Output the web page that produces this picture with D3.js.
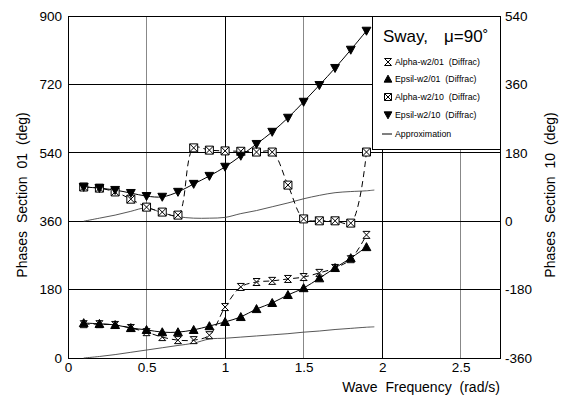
<!DOCTYPE html>
<html><head><meta charset="utf-8">
<script src="https://cdn.jsdelivr.net/npm/d3@7"></script>
<style>body{margin:0;background:#fff}svg{display:block}text{font-family:"Liberation Sans",Arial,Helvetica,sans-serif}</style>
</head><body><svg id="c" width="569" height="419"></svg>
<script>
const freq = [0.1,0.2,0.3,0.4,0.5,0.6,0.7,0.8,0.9,1.0,1.1,1.2,1.3,1.4,1.5,1.6,1.7,1.8,1.9];
const alpha01 = [89,89,87,79,68,55,47,47,60,134,187,200,203,208,213,224,237,260,324];
const epsil01 = [92,90,87,79,74,68,68,74,84,95,108,129,145,166,184,210,237,263,292];
const alpha10 = [90,87,77,58,37,24,16,193,187,185,184,182,182,95,6,1,1,-5,182];
const epsil10 = [90,87,82,74,66,64,77,98,119,143,172,203,235,272,314,358,403,451,501];
const approxFreq = [0.1,0.2,0.3,0.4,0.5,0.6,0.7,0.8,0.9,1.0,1.1,1.2,1.3,1.4,1.5,1.6,1.7,1.8,1.9,1.95];
const approx01 = [0,4,9,15,21,27,33,39,50,52,55,58,61,64,68,71,75,78,81,82];
const approx10 = [0,8,16,26,35,22,12,8,8,10,20,28,38,48,59,68,75,78,80,82];
const xTicks = [0,0.5,1,1.5,2,2.5];
const xTickLabels = ["0","0.5","1","1.5","2","2.5"];
const yLeftTicks = [0,180,360,540,720,900];
const yRightTicks = [-360,-180,0,180,360,540];
const yRightLabels = ["-360","-180","0","180","360","540"];
const legendLabels = ["Alpha-w2/01  (Diffrac)","Epsil-w2/01  (Diffrac)","Alpha-w2/10  (Diffrac)","Epsil-w2/10  (Diffrac)","Approximation"];

const svg = d3.select("#c");
const L=68,R=500,T=16,B=358;
const x = d3.scaleLinear().domain([0,2.75]).range([L,R]);
const yL = d3.scaleLinear().domain([0,900]).range([B,T]);
const yR = d3.scaleLinear().domain([-360,540]).range([B,T]);

// grid
xTicks.filter(v=>v>0).forEach(v=>{
  svg.append("line").attr("x1",x(v)).attr("x2",x(v)).attr("y1",T).attr("y2",B)
    .attr("stroke",(v%1===0)?"#000":"#888").attr("stroke-width",1).attr("shape-rendering","crispEdges");
});
yLeftTicks.filter(v=>v>0&&v<900).forEach(v=>{
  svg.append("line").attr("x1",L).attr("x2",R).attr("y1",yL(v)).attr("y2",yL(v))
    .attr("stroke","#000").attr("stroke-width",1).attr("shape-rendering","crispEdges");
});
svg.append("rect").attr("x",L).attr("y",T).attr("width",R-L).attr("height",B-T)
  .attr("fill","none").attr("stroke","#000").attr("shape-rendering","crispEdges");

// axes
const ax = svg.append("g").attr("transform",`translate(0,${B})`)
  .call(d3.axisBottom(x).tickValues(xTicks).tickFormat((d,i)=>xTickLabels[i]).tickSize(0).tickPadding(4));
const ayl = svg.append("g").attr("transform",`translate(${L},0)`)
  .call(d3.axisLeft(yL).tickValues(yLeftTicks).tickSize(0).tickPadding(6));
const ayr = svg.append("g").attr("transform",`translate(${R},0)`)
  .call(d3.axisRight(yR).tickValues(yRightTicks).tickFormat((d,i)=>yRightLabels[i]).tickSize(0).tickPadding(5));
[ax,ayl,ayr].forEach(g=>{g.select(".domain").remove();g.selectAll("text").attr("font-size",13.5).attr("fill","#000").attr("font-family","Liberation Sans, Arial, sans-serif");});

svg.append("text").attr("x",500).attr("y",392).attr("text-anchor","end").attr("font-size",14)
  .attr("word-spacing",4).text("Wave Frequency (rad/s)");
svg.append("text").attr("transform",`translate(27,${(T+B)/2+8}) rotate(-90)`).attr("text-anchor","middle")
  .attr("font-size",14).attr("word-spacing",4).text("Phases Section 01 (deg)");
svg.append("text").attr("transform",`translate(555,${(T+B)/2+8}) rotate(-90)`).attr("text-anchor","middle")
  .attr("font-size",14).attr("word-spacing",4).text("Phases Section 10 (deg)");

const curve = d3.curveCatmullRom.alpha(0.5);
function drawLine(xs, ys, yS, dash, color, w){
  const line = d3.line().x((d,i)=>x(xs[i])).y(d=>yS(d)).curve(curve);
  svg.append("path").datum(ys).attr("d",line).attr("fill","none").attr("stroke",color)
    .attr("stroke-width",w).attr("stroke-dasharray",dash);
}
drawLine(approxFreq, approx01, yL, null, "#444", 0.9);
drawLine(approxFreq, approx10, yR, null, "#444", 0.9);
drawLine(freq, alpha01, yL, "6,4", "#000", 1);
drawLine(freq, epsil01, yL, null, "#000", 1);
drawLine(freq, alpha10, yR, "6,4", "#000", 1);
drawLine(freq, epsil10, yR, null, "#000", 1);

const sym = {
  hour:s=>`M${-s},${-s}L${s},${-s}L${-s},${s}L${s},${s}Z`,
  up:s=>`M0,${-s*1.1}L${s*1.1},${s*0.9}L${-s*1.1},${s*0.9}Z`,
  down:s=>`M0,${s*1.1}L${s*1.1},${-s*0.9}L${-s*1.1},${-s*0.9}Z`,
  box:s=>`M${-s},${-s}H${s}V${s}H${-s}Z M${-s},${-s}L${s},${s}M${s},${-s}L${-s},${s}`
};
function drawMarks(xs, ys, yS, type, s){
  const fill = (type==="up"||type==="down")?"#000":"#fff";
  svg.append("g").selectAll("path").data(ys).join("path")
    .attr("transform",(d,i)=>`translate(${x(xs[i])},${yS(d)})`)
    .attr("d",sym[type](s)).attr("fill",fill).attr("stroke","#000").attr("stroke-width",1);
}
drawMarks(freq, alpha10, yR, "box", 4);
drawMarks(freq, epsil10, yR, "down", 4);
drawMarks(freq, alpha01, yL, "hour", 3.5);
drawMarks(freq, epsil01, yL, "up", 4);

// legend
svg.append("rect").attr("x",372).attr("y",T).attr("width",R-372).attr("height",149-T)
  .attr("fill","#fff").attr("stroke","#000").attr("shape-rendering","crispEdges");
const lt = svg.append("text").attr("x",383).attr("y",42).attr("font-size",17);
lt.append("tspan").text("Sway,");
lt.append("tspan").attr("dx",16).text("\u03bc=90\u02da");
const types=["hour","up","box","down",null];
const ly=[62,79,97,115,134];
legendLabels.forEach((lab,i)=>{
  if(types[i]){
    svg.append("path").attr("transform",`translate(388,${ly[i]})`).attr("d",sym[types[i]](3.5))
      .attr("fill",(types[i]==="up"||types[i]==="down")?"#000":"#fff").attr("stroke","#000");
  } else {
    svg.append("line").attr("x1",382).attr("x2",392).attr("y1",ly[i]).attr("y2",ly[i]).attr("stroke","#000");
  }
  svg.append("text").attr("x",395).attr("y",ly[i]+3).attr("font-size",8.8).attr("xml:space","preserve").text(lab);
});
</script></body></html>
